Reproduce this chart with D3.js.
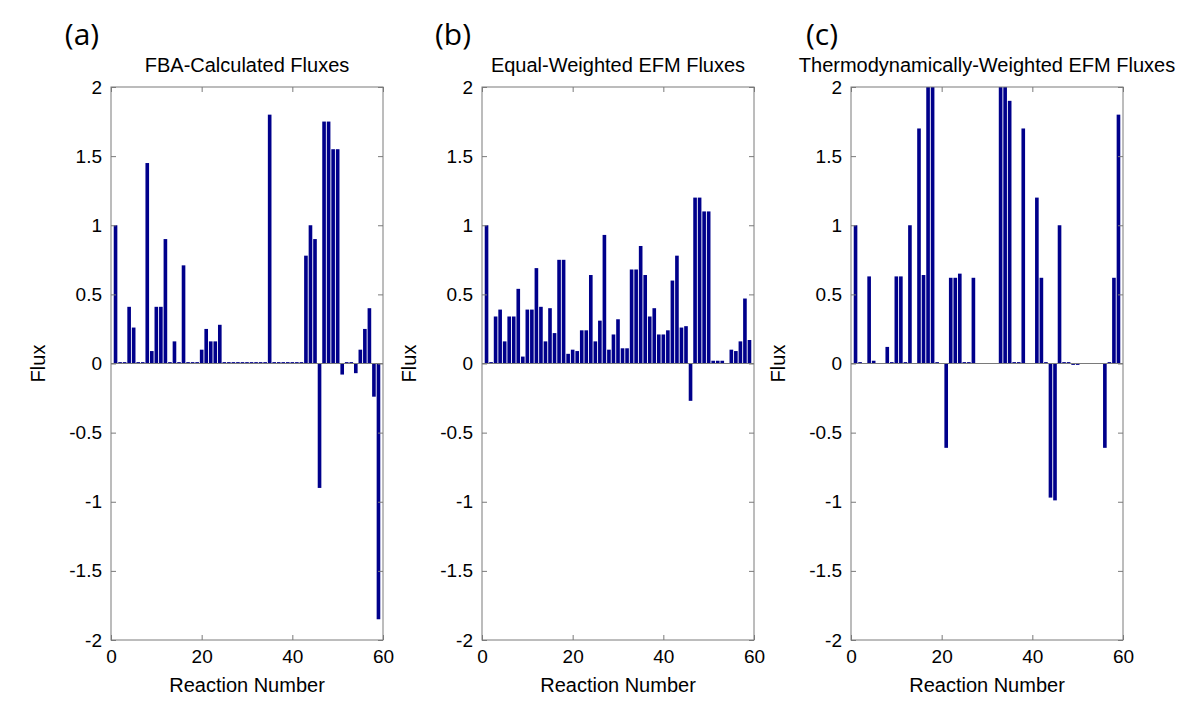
<!DOCTYPE html>
<html>
<head>
<meta charset="utf-8">
<script src="https://cdn.jsdelivr.net/npm/d3@7"></script>
<style>
  html, body { margin: 0; padding: 0; background: #fff; }
  svg { display: block; }
  text { font-family: "Liberation Sans", Arial, sans-serif; fill: #000; }
</style>
</head>
<body>
<svg id="chart" width="1200" height="720"></svg>
<script>
// ---------------- data ----------------
const reactions = [1,2,3,4,5,6,7,8,9,10,11,12,13,14,15,16,17,18,19,20,
  21,22,23,24,25,26,27,28,29,30,31,32,33,34,35,36,37,38,39,40,
  41,42,43,44,45,46,47,48,49,50,51,52,53,54,55,56,57,58,59];

const fbaFlux = [1.0,0.01,0.01,0.41,0.26,0.01,0.01,1.45,0.09,0.41,
  0.41,0.9,0.01,0.16,0.01,0.71,0.01,0.01,0.01,0.1,
  0.25,0.16,0.16,0.28,0.01,0.01,0.01,0.01,0.01,0.01,
  0.01,0.01,0.01,0.01,1.8,0.01,0.01,0.01,0.01,0.01,
  0.01,0.01,0.78,1.0,0.9,-0.9,1.75,1.75,1.55,1.55,
  -0.08,0.01,0.01,-0.07,0.1,0.25,0.4,-0.24,-1.85];

const equalFlux = [1.0,0.01,0.34,0.39,0.16,0.34,0.34,0.54,0.05,0.39,
  0.39,0.69,0.41,0.16,0.40,0.22,0.75,0.75,0.07,0.1,
  0.09,0.24,0.24,0.64,0.16,0.31,0.93,0.1,0.21,0.32,
  0.11,0.11,0.68,0.68,0.85,0.64,0.34,0.40,0.21,0.21,
  0.24,0.60,0.78,0.26,0.27,-0.27,1.2,1.2,1.1,1.1,
  0.02,0.02,0.02,0,0.10,0.09,0.16,0.47,0.17];

const thermoFlux = [1.0,0.01,0,0.63,0.02,0,0,0.12,0.01,0.63,
  0.63,0.01,1.0,0,1.7,0.64,2.2,2.2,0.01,0,
  -0.61,0.62,0.62,0.65,0.01,0.01,0.62,0,0,0,
  0,0,2.2,2.2,1.9,0.01,0.01,1.7,0,0,
  1.2,0.62,0.01,-0.97,-0.99,1.0,0.01,0.01,-0.01,-0.01,
  0,0,0,0,0,-0.61,0.01,0.62,1.8];

const panelLetters = ["(a)", "(b)", "(c)"];
const panelTitles = ["FBA-Calculated Fluxes", "Equal-Weighted EFM Fluxes",
  "Thermodynamically-Weighted EFM Fluxes"];
const xTicks = [0, 20, 40, 60];
const yTicks = [-2, -1.5, -1, -0.5, 0, 0.5, 1, 1.5, 2];
const xLabel = "Reaction Number";
const yLabel = "Flux";

// ---------------- layout ----------------
const svg = d3.select("#chart");
const panelLeft = [111, 482, 851];
const plotW = 272, plotTop = 87, plotH = 553;
const barColor = "#00008B";
const axisColor = "#7a7a7a";
const tickLen = 5;
const series = [fbaFlux, equalFlux, thermoFlux];

const x = d3.scaleLinear().domain([0, 60]).range([0, plotW]);
const y = d3.scaleLinear().domain([-2, 2]).range([plotH, 0]);
const bandW = x(0.8) - x(0);

series.forEach((vals, p) => {
  const g = svg.append("g").attr("transform", `translate(${panelLeft[p]},${plotTop})`);
  const clipId = "clip" + p;
  g.append("clipPath").attr("id", clipId)
    .append("rect").attr("x", 0).attr("y", 0).attr("width", plotW).attr("height", plotH);

  // bars
  g.append("g").attr("clip-path", `url(#${clipId})`)
    .selectAll("rect").data(reactions.map((r, i) => ({r, v: vals[i]})).filter(d => d.v !== 0))
    .join("rect")
    .attr("x", d => x(d.r) - bandW / 2)
    .attr("width", bandW)
    .attr("y", d => y(Math.max(0, d.v)))
    .attr("height", d => Math.max(1, Math.abs(y(d.v) - y(0))))
    .attr("fill", barColor);

  // baseline
  g.append("line").attr("x1", 0).attr("x2", plotW)
    .attr("y1", y(0)).attr("y2", y(0))
    .attr("stroke", axisColor).attr("stroke-width", 1);

  // box
  g.append("rect").attr("x", 0).attr("y", 0).attr("width", plotW).attr("height", plotH)
    .attr("fill", "none").attr("stroke", axisColor).attr("stroke-width", 1);

  // axes via d3 axis
  const axB = d3.axisBottom(x).tickValues(xTicks).tickSize(-tickLen).tickPadding(10)
    .tickFormat(d3.format("d"));
  const gb = g.append("g").attr("transform", `translate(0,${plotH})`).call(axB);
  const axT = d3.axisTop(x).tickValues(xTicks).tickSize(-tickLen).tickFormat("");
  const gt = g.append("g").call(axT);
  const axL = d3.axisLeft(y).tickValues(yTicks).tickSize(-tickLen).tickPadding(9)
    .tickFormat(d => String(d));
  const gl = g.append("g").call(axL);
  const axR = d3.axisRight(y).tickValues(yTicks).tickSize(-tickLen).tickFormat("");
  const gr = g.append("g").attr("transform", `translate(${plotW},0)`).call(axR);

  [gb, gt, gl, gr].forEach(a => {
    a.select(".domain").remove();
    a.selectAll(".tick line").attr("stroke", axisColor);
    a.selectAll(".tick text").attr("font-size", 19).attr("fill", "#000")
      .attr("font-family", "Liberation Sans, Arial, sans-serif");
  });
  gb.selectAll(".tick text").attr("dy", "0.71em");

  // labels
  g.append("text").attr("x", plotW / 2).attr("y", plotH + 52)
    .attr("text-anchor", "middle").attr("font-size", 20).text(xLabel);
  g.append("text")
    .attr("transform", `translate(-66,${plotH / 2}) rotate(-90)`)
    .attr("text-anchor", "middle").attr("font-size", 20).text(yLabel);
  g.append("text").attr("x", plotW / 2).attr("y", -15)
    .attr("text-anchor", "middle").attr("font-size", 20).text(panelTitles[p]);
  g.append("text").attr("x", -29).attr("y", -42)
    .attr("text-anchor", "middle").attr("font-size", 30)
    .style("font-family", "'Open Sans', sans-serif")
    .text(panelLetters[p]);
});
</script>
</body>
</html>
